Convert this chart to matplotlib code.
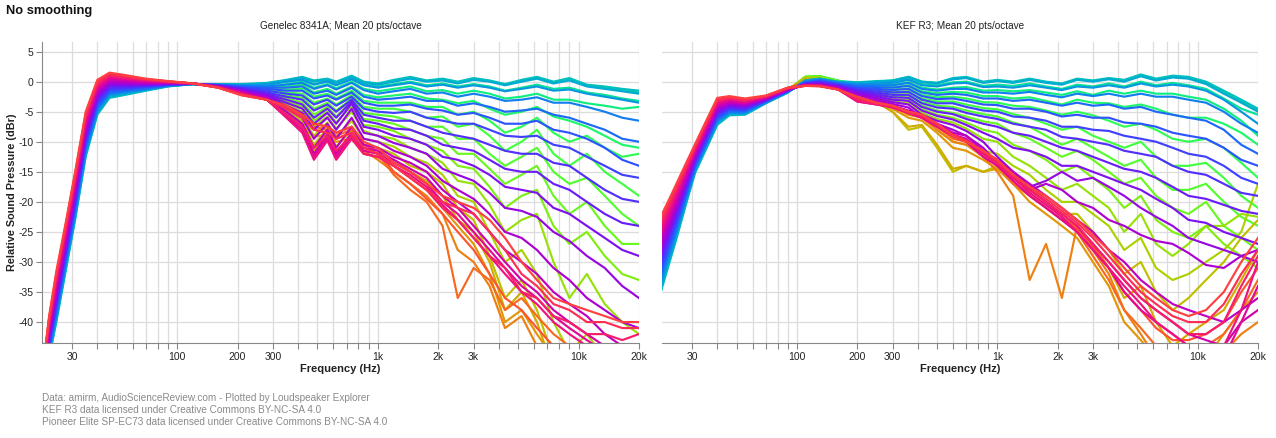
import numpy as np
import matplotlib
matplotlib.use("Agg")
import matplotlib.pyplot as plt

plt.rcParams['font.family'] = ['Liberation Sans', 'DejaVu Sans']
plt.rcParams['axes.unicode_minus'] = False

# off-axis angles (deg), one row per angle in the *_HIGH tables
ANGLES = [0, 10, -10, 20, -20, 30, -30, 40, -40, 50, -50, 60, -60, 70, -70, 80, -80,
          90, -90, 100, -100, 110, -110, 120, -120, 130, -130, 140, -140, 150, -150,
          160, -160, 170, -170, 180]

# ---------------- Genelec 8341A ----------------
# low band: one row per |angle| = 0, 10, ... 180 (both sides overlap here)
G_LOW_HZ = [21, 23, 25, 28, 31, 35, 40, 46, 55, 70, 90, 120, 160, 210]
G_LOW = [
    [-55, -46.0, -40.0, -31.0, -23.0, -12.5, -5.5, -2.7, -2.2, -1.5, -0.8, -0.4, -0.4, -0.4],
    [-55, -45.6, -39.5, -30.6, -22.6, -12.1, -5.2, -2.5, -2.0, -1.4, -0.75, -0.4, -0.45, -0.5],
    [-54, -45.2, -39.1, -30.1, -22.1, -11.7, -4.9, -2.2, -1.8, -1.3, -0.7, -0.4, -0.5, -0.6],
    [-54, -44.8, -38.6, -29.7, -21.7, -11.3, -4.5, -2.0, -1.6, -1.2, -0.65, -0.4, -0.5, -0.7],
    [-54, -44.4, -38.1, -29.2, -21.2, -10.8, -4.2, -1.8, -1.5, -1.1, -0.6, -0.4, -0.55, -0.8],
    [-54, -44.0, -37.6, -28.8, -20.8, -10.4, -3.9, -1.5, -1.3, -0.9, -0.55, -0.35, -0.6, -0.9],
    [-53, -43.7, -37.2, -28.3, -20.3, -10.0, -3.6, -1.3, -1.1, -0.8, -0.5, -0.35, -0.6, -1.0],
    [-53, -43.3, -36.7, -27.9, -19.9, -9.6, -3.2, -1.1, -0.9, -0.7, -0.45, -0.35, -0.65, -1.1],
    [-53, -42.9, -36.2, -27.4, -19.4, -9.2, -2.9, -0.8, -0.7, -0.6, -0.4, -0.35, -0.7, -1.2],
    [-52, -42.5, -35.8, -27.0, -19.0, -8.8, -2.6, -0.6, -0.6, -0.5, -0.35, -0.35, -0.7, -1.4],
    [-52, -42.1, -35.3, -26.6, -18.6, -8.3, -2.3, -0.4, -0.4, -0.4, -0.3, -0.35, -0.75, -1.5],
    [-52, -41.7, -34.8, -26.1, -18.1, -7.9, -2.0, -0.1, -0.2, -0.3, -0.25, -0.3, -0.8, -1.6],
    [-52, -41.3, -34.3, -25.7, -17.7, -7.5, -1.6, 0.1, 0.0, -0.2, -0.2, -0.3, -0.8, -1.7],
    [-51, -40.9, -33.9, -25.2, -17.2, -7.1, -1.3, 0.3, 0.2, -0.1, -0.15, -0.3, -0.85, -1.8],
    [-51, -40.6, -33.4, -24.8, -16.8, -6.7, -1.0, 0.6, 0.4, 0.1, -0.1, -0.3, -0.9, -1.9],
    [-51, -40.2, -32.9, -24.3, -16.3, -6.3, -0.7, 0.8, 0.5, 0.2, -0.05, -0.3, -0.9, -2.0],
    [-50, -39.8, -32.4, -23.9, -15.9, -5.8, -0.3, 1.0, 0.7, 0.3, 0.0, -0.3, -0.95, -2.1],
    [-50, -39.4, -32.0, -23.4, -15.4, -5.4, 0.0, 1.3, 0.9, 0.4, 0.05, -0.3, -1.0, -2.2],
    [-50, -39.0, -31.5, -23.0, -15.0, -5.0, 0.3, 1.5, 1.1, 0.5, 0.1, -0.3, -1.0, -2.3],
]
G_HIGH_HZ = [280, 350, 420, 480, 560, 620, 740, 850, 1000, 1200, 1450, 1750, 2100, 2500,
             3000, 3600, 4300, 5200, 6200, 7500, 9000, 11000, 13500, 16500, 20000]
G_HIGH = [
    [-0.2, 0.3, 0.8, 0.2, 0.5, 0.0, 1.0, 0.0, -0.3, 0.3, 0.8, 0.2, 0.5, 0.0, 0.6, 0.2, -0.4, 0.3, 0.8, 0.0, 0.6, -0.5, -0.8, -1.2, -1.5],
    [-0.3, 0.2, 0.6, 0.0, 0.3, -0.2, 0.8, -0.2, -0.5, 0.0, 0.5, 0.0, 0.2, -0.3, 0.3, 0.0, -0.6, 0.0, 0.5, -0.3, 0.2, -0.8, -1.2, -1.6, -2.0],
    [-0.3, 0.2, 0.7, 0.1, 0.4, -0.1, 0.9, -0.1, -0.4, 0.1, 0.6, 0.1, 0.4, -0.1, 0.4, 0.1, -0.5, 0.1, 0.6, -0.2, 0.4, -0.6, -1.0, -1.4, -1.8],
    [-0.5, 0.0, 0.3, -0.5, 0.0, -0.6, 0.4, -0.6, -1.0, -0.6, -0.2, -0.8, -0.5, -1.0, -0.6, -1.0, -1.6, -1.2, -0.8, -1.5, -1.3, -2.0, -2.5, -3.0, -3.5],
    [-0.5, 0.0, 0.4, -0.4, 0.1, -0.5, 0.5, -0.5, -0.8, -0.4, 0.0, -0.6, -0.3, -0.8, -0.4, -0.8, -1.5, -1.0, -0.5, -1.2, -1.0, -1.8, -2.2, -2.8, -3.2],
    [-0.8, -0.5, -0.2, -1.2, -0.6, -1.3, -0.2, -1.4, -2.0, -1.6, -1.2, -2.0, -1.8, -2.5, -2.0, -2.5, -3.2, -3.0, -2.6, -3.5, -3.5, -4.2, -5.0, -6.0, -6.5],
    [-0.8, -0.4, 0.0, -1.0, -0.4, -1.1, 0.0, -1.2, -1.6, -1.2, -0.8, -1.6, -1.4, -2.0, -1.5, -2.0, -2.8, -2.5, -2.0, -3.0, -3.0, -3.6, -4.0, -4.5, -4.2],
    [-1.0, -1.0, -0.8, -2.0, -1.5, -2.2, -1.0, -2.5, -3.0, -2.8, -2.5, -3.2, -3.2, -4.0, -3.6, -4.2, -5.0, -4.8, -4.5, -5.5, -6.0, -7.0, -8.0, -9.5, -10.0],
    [-1.0, -0.8, -0.5, -1.8, -1.2, -2.0, -0.8, -2.2, -2.6, -2.3, -2.0, -2.8, -3.0, -3.6, -3.2, -4.5, -5.5, -5.0, -4.2, -5.8, -6.5, -7.5, -9.0, -10.5, -11.0],
    [-1.2, -1.5, -1.5, -2.8, -2.3, -3.0, -1.8, -3.5, -4.0, -4.0, -3.8, -4.5, -4.8, -5.5, -5.2, -6.0, -7.0, -7.0, -6.5, -8.0, -8.5, -9.5, -11.0, -13.0, -14.0],
    [-1.2, -1.3, -1.2, -2.5, -2.0, -2.8, -1.5, -3.2, -3.5, -3.5, -3.5, -4.2, -4.2, -5.5, -5.0, -6.5, -8.5, -7.5, -6.0, -8.5, -10.0, -9.0, -11.0, -12.5, -12.0],
    [-1.5, -2.0, -2.3, -3.8, -3.0, -4.0, -2.5, -4.5, -5.0, -5.2, -5.0, -6.0, -6.5, -7.0, -7.0, -8.0, -9.0, -9.2, -9.0, -10.5, -11.0, -12.5, -14.0, -15.5, -16.0],
    [-1.5, -1.8, -2.0, -3.5, -2.8, -3.8, -2.2, -4.2, -4.5, -4.5, -5.0, -6.0, -5.8, -7.5, -7.0, -9.0, -11.5, -10.0, -8.0, -12.0, -14.0, -12.0, -15.0, -17.0, -19.0],
    [-1.8, -2.5, -3.0, -4.8, -3.8, -5.0, -3.0, -5.5, -6.0, -6.5, -6.5, -7.5, -8.5, -9.0, -9.5, -10.5, -11.5, -12.0, -12.0, -13.5, -14.0, -16.0, -18.0, -19.5, -20.0],
    [-1.8, -2.3, -2.7, -4.5, -3.5, -4.8, -2.8, -5.2, -5.5, -5.8, -6.5, -7.5, -7.5, -9.5, -9.5, -12.0, -14.0, -12.5, -11.0, -15.0, -17.0, -16.0, -19.0, -22.0, -24.0],
    [-2.0, -3.0, -3.8, -6.0, -4.5, -6.0, -3.3, -6.5, -7.0, -7.8, -8.0, -9.0, -10.5, -11.0, -11.5, -13.0, -14.5, -15.0, -15.0, -17.0, -18.0, -20.0, -22.0, -23.5, -24.0],
    [-2.0, -2.8, -3.5, -5.5, -4.2, -5.8, -3.3, -6.2, -6.5, -7.0, -8.0, -9.0, -9.5, -12.0, -12.0, -14.5, -17.0, -15.5, -14.0, -19.0, -22.0, -20.0, -24.0, -27.0, -27.0],
    [-2.2, -3.5, -4.5, -7.0, -5.2, -7.0, -3.6, -7.5, -8.0, -9.0, -9.5, -10.5, -12.5, -13.0, -14.0, -15.5, -17.5, -18.0, -18.5, -21.0, -22.0, -24.0, -26.0, -28.0, -29.0],
    [-2.2, -3.3, -4.2, -6.5, -5.0, -6.8, -4.0, -7.2, -7.5, -8.2, -9.5, -10.5, -11.5, -14.0, -14.5, -17.5, -21.0, -19.0, -18.0, -24.0, -27.0, -25.0, -29.0, -32.0, -33.0],
    [-2.4, -4.0, -5.2, -8.0, -6.0, -8.0, -4.5, -8.5, -9.0, -10.2, -11.0, -12.0, -14.5, -15.5, -16.5, -18.5, -21.0, -21.5, -22.5, -25.0, -26.5, -29.0, -31.0, -34.0, -36.0],
    [-2.4, -3.8, -5.0, -7.5, -5.8, -7.8, -5.0, -8.2, -9.0, -9.5, -11.0, -12.0, -13.5, -16.5, -17.0, -20.5, -25.0, -23.0, -22.0, -30.0, -36.0, -32.0, -37.0, -40.0, -42.0],
    [-2.6, -4.5, -6.0, -9.5, -7.0, -9.5, -6.0, -9.5, -10.0, -11.5, -12.5, -14.0, -16.5, -18.0, -19.5, -22.0, -25.0, -26.0, -28.0, -31.0, -33.0, -36.0, -38.0, -40.0, -41.0],
    [-2.6, -4.3, -5.8, -9.0, -6.8, -9.2, -6.5, -9.5, -10.0, -10.8, -12.5, -13.5, -15.5, -19.0, -20.0, -25.0, -30.0, -28.0, -32.0, -40.0, -45.0, -42.0, -46.0, -48.0, -50.0],
    [-2.8, -5.0, -7.0, -11.0, -8.0, -11.0, -7.5, -10.5, -11.0, -12.5, -13.5, -15.0, -18.0, -20.0, -22.0, -25.0, -28.0, -30.0, -32.0, -35.0, -37.0, -39.0, -42.0, -44.0, -45.0],
    [-2.8, -4.8, -6.5, -10.5, -7.8, -10.8, -8.0, -10.5, -11.0, -12.0, -14.0, -15.0, -17.0, -21.0, -23.0, -29.0, -36.0, -33.0, -38.0, -46.0, -48.0, -46.0, -50.0, -50.0, -50.0],
    [-3.0, -5.5, -7.5, -12.0, -8.8, -12.0, -8.5, -11.0, -11.5, -13.0, -14.5, -16.0, -19.0, -21.0, -24.0, -27.0, -30.0, -33.0, -35.0, -38.0, -40.0, -42.0, -44.0, -46.0, -47.0],
    [-3.0, -5.2, -7.0, -11.5, -8.5, -11.8, -9.0, -11.5, -12.0, -13.0, -15.0, -16.5, -19.0, -23.0, -25.0, -30.0, -38.0, -35.0, -40.0, -48.0, -50.0, -50.0, -50.0, -50.0, -50.0],
    [-3.0, -5.8, -8.0, -12.5, -9.3, -12.5, -9.0, -11.5, -12.0, -13.5, -15.0, -17.0, -20.0, -22.0, -25.0, -28.0, -31.0, -34.0, -36.0, -39.0, -41.0, -43.0, -45.0, -47.0, -48.0],
    [-3.0, -5.5, -7.5, -9.0, -9.0, -10.0, -9.5, -12.0, -12.5, -14.0, -16.0, -18.0, -21.0, -24.0, -27.0, -32.0, -40.0, -38.0, -42.0, -46.0, -50.0, -50.0, -50.0, -50.0, -50.0],
    [-3.0, -6.0, -8.5, -13.0, -9.8, -13.0, -9.5, -12.0, -12.5, -14.0, -15.5, -17.5, -20.5, -23.0, -26.0, -29.0, -32.0, -35.0, -37.0, -40.0, -42.0, -44.0, -46.0, -48.0, -48.0],
    [-3.0, -4.5, -6.0, -8.0, -8.5, -9.5, -8.5, -11.5, -13.0, -15.0, -17.0, -19.0, -22.0, -28.0, -30.0, -34.0, -41.0, -39.0, -44.0, -48.0, -50.0, -50.0, -50.0, -50.0, -50.0],
    [-3.0, -5.5, -7.5, -11.0, -9.0, -11.5, -9.0, -12.0, -12.5, -14.0, -16.0, -18.0, -21.0, -23.0, -26.0, -29.0, -31.0, -35.0, -36.0, -39.0, -40.0, -42.0, -42.0, -43.0, -42.0],
    [-3.0, -4.5, -5.8, -7.5, -8.0, -9.0, -8.0, -11.0, -12.0, -15.5, -18.0, -20.0, -24.0, -36.0, -31.0, -33.0, -38.0, -36.0, -39.0, -42.0, -44.0, -46.0, -47.0, -48.0, -48.0],
    [-3.0, -4.5, -6.0, -8.0, -8.5, -9.5, -8.5, -11.0, -12.0, -14.0, -16.0, -18.0, -20.0, -21.0, -22.0, -25.0, -28.0, -32.0, -34.0, -37.0, -38.0, -40.0, -40.0, -41.0, -41.0],
    [-3.0, -4.2, -5.5, -7.0, -7.5, -8.5, -7.5, -10.5, -11.5, -15.0, -17.0, -19.5, -22.0, -25.0, -28.0, -32.0, -36.0, -38.0, -41.0, -44.0, -46.0, -46.0, -46.0, -47.0, -47.0],
    [-3.0, -4.0, -5.5, -7.0, -7.5, -8.5, -7.5, -10.0, -11.0, -13.5, -15.0, -17.0, -19.0, -20.0, -21.0, -23.0, -26.0, -30.0, -33.0, -36.0, -37.0, -38.0, -39.0, -40.0, -40.0],
]

# ---------------- KEF R3 ----------------
K_LOW_HZ = [21, 23, 25, 28, 31, 35, 40, 46, 55, 70, 90]
K_LOW = [
    [-34.8, -30.3, -26.2, -20.3, -15.2, -11.4, -7.2, -5.6, -5.5, -3.6, -1.8],
    [-34.1, -29.7, -25.7, -19.9, -14.9, -11.1, -7.0, -5.4, -5.4, -3.5, -1.8],
    [-33.4, -29.1, -25.2, -19.5, -14.7, -10.9, -6.7, -5.2, -5.2, -3.5, -1.7],
    [-32.7, -28.5, -24.7, -19.2, -14.4, -10.6, -6.5, -5.1, -5.1, -3.4, -1.7],
    [-32.0, -27.9, -24.2, -18.8, -14.1, -10.4, -6.2, -4.9, -4.9, -3.3, -1.6],
    [-31.3, -27.3, -23.6, -18.4, -13.9, -10.1, -6.0, -4.7, -4.8, -3.2, -1.6],
    [-30.6, -26.7, -23.1, -18.0, -13.6, -9.8, -5.7, -4.5, -4.6, -3.2, -1.5],
    [-29.9, -26.1, -22.6, -17.7, -13.3, -9.6, -5.5, -4.4, -4.5, -3.1, -1.5],
    [-29.2, -25.5, -22.1, -17.3, -13.1, -9.3, -5.2, -4.2, -4.3, -3.0, -1.4],
    [-28.6, -25.0, -21.6, -16.9, -12.8, -9.1, -5.0, -4.0, -4.2, -3.0, -1.4],
    [-27.9, -24.4, -21.1, -16.5, -12.5, -8.8, -4.7, -3.8, -4.0, -2.9, -1.4],
    [-27.2, -23.8, -20.6, -16.1, -12.3, -8.5, -4.5, -3.6, -3.9, -2.8, -1.3],
    [-26.5, -23.2, -20.1, -15.8, -12.0, -8.3, -4.2, -3.5, -3.7, -2.7, -1.3],
    [-25.8, -22.6, -19.6, -15.4, -11.7, -8.0, -4.0, -3.3, -3.6, -2.7, -1.2],
    [-25.1, -22.0, -19.0, -15.0, -11.5, -7.7, -3.7, -3.1, -3.4, -2.6, -1.2],
    [-24.4, -21.4, -18.5, -14.6, -11.2, -7.5, -3.5, -2.9, -3.3, -2.5, -1.1],
    [-23.7, -20.8, -18.0, -14.3, -10.9, -7.2, -3.2, -2.8, -3.1, -2.4, -1.1],
    [-23.0, -20.2, -17.5, -13.9, -10.7, -7.0, -3.0, -2.6, -3.0, -2.4, -1.0],
    [-22.3, -19.6, -17.0, -13.5, -10.4, -6.7, -2.7, -2.4, -2.8, -2.3, -1.0],
]
K_HIGH_HZ = [110, 130, 160, 200, 250, 300, 360, 420, 500, 600, 700, 850, 1000, 1200, 1450,
             1750, 2100, 2500, 3000, 3600, 4300, 5200, 6200, 7500, 9000, 11000, 13500, 16500, 20000]
K_HIGH = [
    [0.2, 0.5, 0.0, -0.2, 0.0, 0.2, 0.8, 0.0, -0.2, 0.6, 0.8, 0.0, 0.3, 0.0, 0.5, 0.0, -0.3, 0.5, 0.2, 0.6, 0.3, 1.2, 0.5, 1.0, 0.8, 0.0, -1.5, -3.0, -4.5],
    [0.2, 0.5, 0.0, -0.2, 0.0, 0.1, 0.7, -0.1, -0.3, 0.4, 0.6, -0.2, 0.1, -0.2, 0.3, -0.2, -0.5, 0.3, 0.0, 0.4, 0.0, 0.9, 0.2, 0.7, 0.5, -0.4, -2.0, -3.5, -5.0],
    [0.4, 0.6, 0.1, -0.1, 0.1, 0.2, 0.8, 0.0, -0.2, 0.5, 0.7, -0.1, 0.2, -0.1, 0.4, -0.1, -0.4, 0.4, 0.1, 0.5, 0.2, 1.0, 0.3, 0.8, 0.6, -0.2, -1.8, -3.3, -4.8],
    [0.1, 0.4, -0.1, -0.4, -0.3, -0.2, 0.3, -0.6, -0.8, -0.3, -0.2, -0.9, -0.8, -1.0, -0.6, -1.0, -1.4, -0.8, -1.0, -0.6, -1.0, -0.3, -0.8, -0.5, -0.8, -1.5, -3.0, -5.0, -7.0],
    [0.5, 0.7, 0.1, -0.3, -0.2, -0.1, 0.4, -0.4, -0.6, -0.1, 0.0, -0.7, -0.5, -0.7, -0.3, -0.8, -1.2, -0.5, -0.8, -0.3, -0.8, 0.0, -0.6, -0.2, -0.6, -1.2, -2.8, -4.5, -5.5],
    [0.0, 0.3, -0.2, -0.6, -0.6, -0.6, -0.2, -1.2, -1.5, -1.2, -1.2, -1.8, -1.8, -2.0, -1.7, -2.2, -2.6, -2.0, -2.4, -2.0, -2.5, -2.0, -2.5, -2.5, -3.0, -3.5, -5.0, -7.0, -8.5],
    [0.6, 0.8, 0.1, -0.5, -0.5, -0.5, -0.1, -1.0, -1.3, -1.0, -0.9, -1.5, -1.4, -1.6, -1.4, -1.8, -2.2, -1.6, -2.2, -1.5, -2.0, -1.5, -2.0, -2.0, -2.5, -3.0, -4.5, -6.5, -9.0],
    [-0.1, 0.2, -0.3, -0.8, -0.9, -1.0, -0.7, -1.8, -2.2, -2.0, -2.2, -2.8, -2.8, -3.2, -3.0, -3.5, -4.0, -3.5, -4.0, -3.8, -4.5, -4.2, -5.0, -5.5, -6.0, -6.5, -8.0, -10.5, -12.0],
    [0.7, 0.8, 0.2, -0.7, -0.8, -0.9, -0.6, -1.6, -1.9, -1.7, -1.8, -2.4, -2.4, -2.8, -2.6, -3.2, -3.8, -3.0, -3.5, -3.6, -4.2, -3.8, -4.5, -5.5, -6.0, -6.0, -7.0, -8.5, -10.5],
    [-0.2, 0.1, -0.4, -1.0, -1.2, -1.4, -1.2, -2.4, -2.9, -2.8, -3.2, -3.8, -3.9, -4.5, -4.5, -5.0, -5.8, -5.5, -6.0, -6.0, -6.8, -7.0, -7.5, -8.5, -9.0, -9.5, -11.0, -13.0, -14.0],
    [0.8, 0.9, 0.2, -0.9, -1.1, -1.3, -1.1, -2.2, -2.6, -2.5, -2.8, -3.4, -3.5, -4.0, -4.2, -4.8, -5.5, -5.0, -5.6, -6.5, -7.5, -7.0, -8.0, -9.5, -10.0, -9.5, -11.0, -13.5, -16.0],
    [-0.3, 0.0, -0.5, -1.2, -1.5, -1.8, -1.7, -3.0, -3.6, -3.6, -4.2, -4.8, -5.0, -5.8, -6.0, -6.5, -7.5, -7.5, -8.0, -8.2, -9.0, -9.5, -10.0, -11.0, -12.0, -12.5, -14.0, -16.0, -17.0],
    [0.8, 0.9, 0.2, -1.1, -1.4, -1.7, -1.6, -2.8, -3.3, -3.3, -3.8, -4.4, -4.6, -5.4, -6.0, -7.0, -8.0, -7.5, -9.0, -10.0, -11.0, -10.0, -12.5, -14.0, -14.0, -13.5, -16.0, -19.0, -21.0],
    [-0.3, -0.1, -0.6, -1.4, -1.8, -2.2, -2.2, -3.6, -4.3, -4.5, -5.2, -5.8, -6.2, -7.0, -7.5, -8.0, -9.2, -9.5, -10.0, -10.5, -11.5, -12.0, -12.5, -14.0, -15.0, -15.5, -17.0, -18.5, -19.0],
    [0.8, 0.9, 0.1, -1.3, -1.7, -2.1, -2.1, -3.4, -4.0, -4.2, -4.8, -5.4, -5.8, -6.8, -7.5, -9.0, -10.5, -9.5, -11.0, -12.5, -14.0, -13.0, -16.0, -18.0, -18.0, -17.0, -20.0, -22.5, -24.0],
    [-0.4, -0.2, -0.7, -1.6, -2.1, -2.6, -2.7, -4.2, -5.0, -5.4, -6.2, -7.0, -7.5, -8.5, -9.0, -10.0, -11.0, -11.5, -12.5, -13.5, -14.5, -15.0, -16.0, -17.5, -19.0, -19.5, -20.5, -21.5, -22.0],
    [0.8, 0.8, 0.1, -1.5, -2.0, -2.5, -2.6, -4.0, -4.8, -5.2, -5.8, -6.6, -7.0, -8.5, -9.5, -11.0, -12.5, -11.5, -13.0, -15.0, -17.0, -16.0, -19.0, -21.0, -22.0, -20.0, -24.0, -26.0, -28.0],
    [-0.4, -0.3, -0.8, -1.8, -2.4, -3.0, -3.2, -4.8, -5.7, -6.3, -7.2, -8.5, -9.5, -11.0, -11.5, -12.5, -14.0, -14.0, -15.0, -16.0, -17.0, -18.0, -19.5, -21.0, -23.0, -23.5, -25.0, -26.0, -27.0],
    [0.8, 0.8, 0.0, -1.7, -2.3, -2.9, -3.1, -4.6, -5.5, -6.0, -6.8, -8.0, -8.5, -10.5, -11.5, -13.0, -15.0, -14.0, -16.0, -18.0, -21.0, -19.0, -23.0, -25.0, -26.0, -24.0, -27.0, -29.0, -31.0],
    [-0.5, -0.4, -0.9, -2.0, -2.7, -3.4, -3.8, -5.5, -6.5, -7.2, -8.2, -10.0, -12.5, -15.0, -17.5, -16.5, -15.0, -16.5, -16.0, -17.5, -19.0, -21.0, -22.5, -24.0, -26.0, -27.0, -28.0, -29.0, -30.0],
    [0.7, 0.7, -0.1, -1.9, -2.6, -3.3, -3.6, -5.2, -6.2, -6.8, -7.8, -9.5, -10.0, -12.5, -14.0, -16.0, -18.0, -17.0, -19.0, -21.0, -25.0, -22.0, -27.0, -29.0, -27.0, -24.0, -24.0, -22.0, -22.5],
    [-0.5, -0.5, -1.0, -2.2, -3.0, -3.7, -4.3, -6.0, -7.0, -8.0, -9.0, -11.0, -13.5, -16.0, -18.0, -17.0, -18.0, -20.0, -21.0, -23.0, -24.0, -25.5, -26.5, -27.0, -28.5, -30.5, -31.0, -29.0, -28.0],
    [0.6, 0.6, -0.2, -2.1, -2.9, -4.0, -5.5, -5.8, -8.0, -10.0, -10.5, -11.5, -12.0, -14.0, -15.5, -18.0, -20.0, -20.0, -22.0, -24.0, -28.0, -26.0, -31.0, -33.0, -32.0, -30.0, -28.0, -25.0, -17.0],
    [-0.6, -0.6, -1.1, -2.6, -3.3, -4.0, -4.8, -5.5, -7.0, -8.5, -9.0, -11.5, -13.0, -15.0, -17.0, -19.0, -21.0, -23.0, -25.0, -28.0, -30.0, -33.0, -35.0, -37.0, -38.0, -39.0, -40.0, -38.0, -36.0],
    [0.5, 0.4, -0.3, -2.5, -3.3, -5.0, -8.0, -7.5, -11.0, -15.0, -14.0, -15.0, -14.0, -16.0, -17.5, -20.0, -22.0, -22.0, -25.0, -28.0, -32.0, -30.0, -35.0, -38.0, -36.0, -33.0, -30.0, -26.0, -23.0],
    [-0.6, -0.7, -1.2, -3.0, -3.6, -4.2, -5.0, -5.8, -7.2, -8.8, -9.5, -12.0, -13.5, -16.0, -18.0, -20.0, -22.0, -24.0, -27.0, -30.0, -33.0, -36.0, -38.0, -40.0, -42.0, -43.0, -44.0, -40.0, -38.0],
    [0.4, 0.3, -0.4, -2.8, -3.5, -5.0, -7.5, -7.2, -10.5, -14.5, -14.0, -15.0, -14.5, -17.0, -18.5, -21.0, -23.0, -24.0, -27.0, -31.0, -36.0, -34.0, -40.0, -44.0, -42.0, -40.0, -38.0, -33.0, -28.0],
    [-0.6, -0.7, -1.2, -3.3, -3.8, -4.3, -5.2, -6.0, -7.5, -9.0, -10.0, -12.5, -14.0, -16.5, -19.0, -21.0, -23.0, -25.0, -28.0, -31.0, -35.0, -38.0, -40.0, -42.0, -44.0, -46.0, -46.0, -40.0, -34.0],
    [0.2, 0.1, -0.5, -2.7, -3.4, -4.5, -6.0, -6.5, -8.5, -11.0, -11.5, -13.0, -14.5, -17.0, -20.0, -22.0, -24.0, -26.0, -30.0, -34.0, -40.0, -43.0, -46.0, -48.0, -48.0, -46.0, -42.0, -38.0, -35.0],
    [-0.6, -0.7, -1.3, -3.3, -3.8, -4.2, -5.2, -6.0, -7.3, -9.0, -9.8, -12.0, -13.5, -16.0, -18.5, -20.5, -22.5, -25.0, -28.0, -31.0, -34.0, -37.0, -40.0, -42.0, -44.0, -45.0, -44.0, -38.0, -30.0],
    [0.0, -0.1, -0.6, -2.6, -3.4, -4.2, -5.5, -6.0, -8.0, -10.0, -10.5, -12.5, -15.0, -19.0, -33.0, -27.0, -36.0, -24.0, -28.0, -32.0, -38.0, -42.0, -46.0, -48.0, -48.0, -46.0, -45.0, -42.0, -40.0],
    [-0.7, -0.7, -1.3, -3.0, -3.7, -4.1, -5.0, -5.6, -7.2, -9.0, -9.8, -11.8, -13.5, -16.0, -18.0, -20.0, -22.0, -24.0, -27.0, -30.0, -33.0, -36.0, -38.0, -40.0, -42.0, -42.0, -40.0, -34.0, -29.0],
    [-0.2, -0.3, -0.8, -2.6, -3.5, -4.0, -5.2, -5.8, -7.5, -9.5, -10.0, -12.0, -14.0, -17.0, -19.0, -21.0, -23.0, -25.0, -29.0, -33.0, -38.0, -41.0, -44.0, -46.0, -46.0, -44.0, -42.0, -38.0, -33.0],
    [-0.7, -0.7, -1.3, -2.7, -3.6, -4.0, -5.0, -5.5, -7.0, -8.8, -9.8, -11.5, -13.2, -15.5, -17.5, -19.5, -21.5, -23.5, -26.0, -29.0, -32.0, -35.0, -37.0, -39.0, -40.0, -40.0, -37.0, -32.0, -28.0],
    [-0.4, -0.5, -1.0, -2.6, -3.5, -4.0, -5.1, -5.6, -7.2, -9.2, -10.0, -11.8, -13.5, -16.0, -18.0, -20.0, -22.5, -24.5, -27.5, -31.0, -35.0, -38.0, -41.0, -43.0, -43.0, -42.0, -40.0, -35.0, -31.0],
    [-0.7, -0.8, -1.3, -2.5, -3.5, -4.0, -5.0, -5.5, -7.0, -9.0, -10.0, -11.5, -13.0, -15.5, -17.5, -19.0, -21.0, -23.0, -25.5, -28.0, -31.0, -34.0, -36.0, -38.0, -39.0, -38.0, -35.0, -30.0, -26.0],
]

PANELS = [
    ("Genelec 8341A; Mean 20 pts/octave", G_LOW_HZ, G_LOW, G_HIGH_HZ, G_HIGH),
    ("KEF R3; Mean 20 pts/octave", K_LOW_HZ, K_LOW, K_HIGH_HZ, K_HIGH),
]

X_TICKS = [30, 100, 200, 300, 1000, 2000, 3000, 10000, 20000]
X_LABELS = ["30", "100", "200", "300", "1k", "2k", "3k", "10k", "20k"]
Y_TICKS = [5, 0, -5, -10, -15, -20, -25, -30, -35, -40]

FOOTNOTES = [
    "Data: amirm, AudioScienceReview.com - Plotted by Loudspeaker Explorer",
    "KEF R3 data licensed under Creative Commons BY-NC-SA 4.0",
    "Pioneer Elite SP-EC73 data licensed under Creative Commons BY-NC-SA 4.0",
]


def angle_color(angle):
    # sinebow hue wheel: on-axis teal, +side blue/purple, -side green/yellow, rear red
    a = np.radians(-angle / 2.0)
    return (np.sin(a) ** 2, np.sin(a + np.pi / 3) ** 2, np.sin(a + 2 * np.pi / 3) ** 2)


W, H = 1276, 438
fig = plt.figure(figsize=(W / 100, H / 100), dpi=100)
fig.patch.set_facecolor("white")

minor = [m * 10 ** e for e in range(1, 5) for m in range(2, 10)]
minor = [f for f in minor if 21 < f < 20000 and f not in X_TICKS]

boxes = [(42, 639), (662, 1258)]
top_px, bot_px = 42, 342.5
draw_order = sorted(range(len(ANGLES)), key=lambda i: (ANGLES[i] >= 0, abs(ANGLES[i])))

for p, (title, low_hz, low, high_hz, high) in enumerate(PANELS):
    x0, x1 = boxes[p]
    ax = fig.add_axes([x0 / W, 1 - bot_px / H, (x1 - x0) / W, (bot_px - top_px) / H])
    ax.set_xscale("log")
    ax.set_xlim(21.2, 20000)
    ax.set_ylim(-43.4, 6.6)

    for i in draw_order:
        ang = ANGLES[i]
        freqs = list(low_hz) + list(high_hz)
        vals = list(low[abs(ang) // 10]) + list(high[i])
        ax.plot(freqs, vals, color=angle_color(ang), lw=1.55, solid_joinstyle="round",
                zorder=3)

    ax.set_xticks(X_TICKS)
    ax.set_xticklabels(X_LABELS)
    ax.set_xticks(minor, minor=True)
    ax.set_yticks(Y_TICKS)
    ax.grid(True, which="both", axis="x", color="#dcdcdc", lw=0.9, zorder=0)
    ax.grid(True, which="major", axis="y", color="#dcdcdc", lw=0.9, zorder=0)
    ax.tick_params(axis="x", which="both", direction="out", length=4.5, width=0.8,
                   color="#888888", labelsize=7.5, pad=2, labelcolor="#222222")
    ax.tick_params(axis="y", direction="out", length=4, width=0.8, color="#888888",
                   labelsize=7.5, pad=2, labelcolor="#222222")
    for s in ("top", "right"):
        ax.spines[s].set_visible(False)
    ax.spines["bottom"].set_color("#888888")
    ax.spines["left"].set_color("#888888")
    if p == 1:
        ax.spines["left"].set_visible(False)
        ax.tick_params(axis="y", left=False, labelleft=False)

    cx = (x0 + x1) / 2 / W
    fig.text(cx, 1 - 26 / H, title, ha="center", va="center", fontsize=7.2, color="#222222")
    fig.text(cx, 1 - 369 / H, "Frequency (Hz)", ha="center", va="center", fontsize=8,
             fontweight="bold", color="#222222")

fig.text(6 / W, 1 - 11 / H, "No smoothing", ha="left", va="center", fontsize=9.3,
         fontweight="bold", color="#111111")
fig.text(12 / W, 1 - 192 / H, "Relative Sound Pressure (dBr)", ha="center", va="center",
         rotation=90, fontsize=7.8, fontweight="bold", color="#222222")
for k, line in enumerate(FOOTNOTES):
    fig.text(42 / W, 1 - (398 + 12 * k) / H, line, ha="left", va="center", fontsize=7.2,
             color="#8a8a8a")

fig.savefig("out.png", dpi=100, facecolor="white")
